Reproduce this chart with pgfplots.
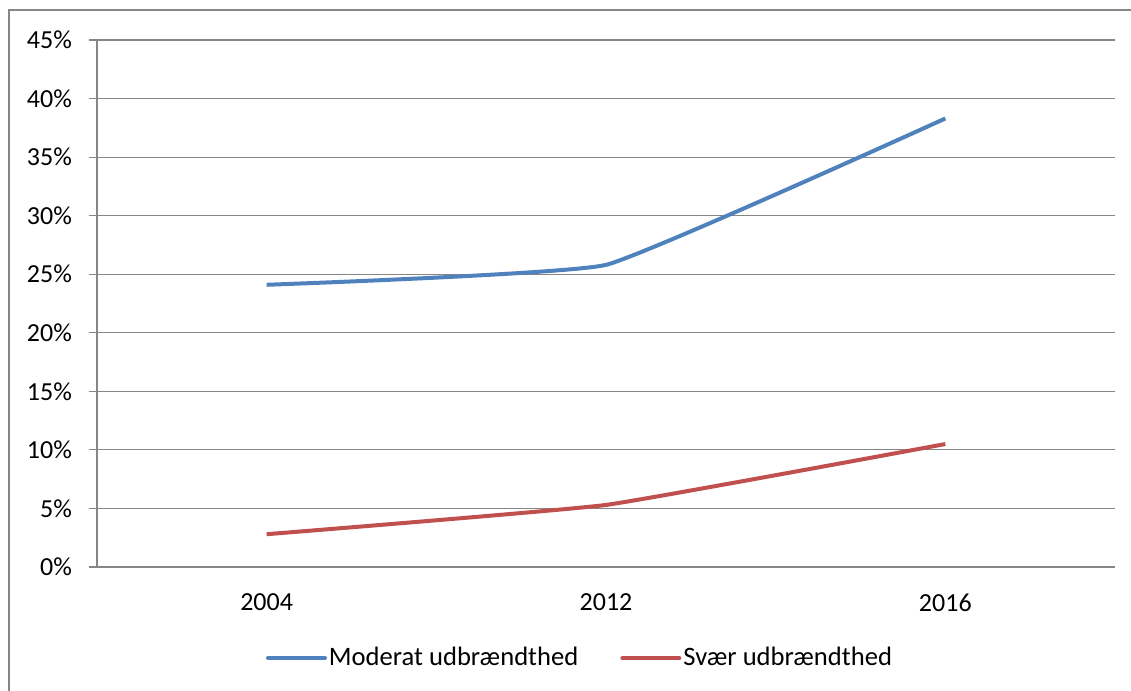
\documentclass[border=0pt]{standalone}
\usepackage{pgfplots}
\pgfplotsset{compat=1.18}
\usepackage{fontspec}
\setmainfont{Carlito}
\definecolor{gridc}{HTML}{868686}
\definecolor{sblue}{HTML}{4F81BD}
\definecolor{sred}{HTML}{C0504D}
\begin{document}
\begin{tikzpicture}
\clip (0,0) rectangle (565.5pt,-345.5pt);
\useasboundingbox (0,0) rectangle (565.5pt,-345.5pt);
\draw[gridc, line width=0.6pt] (4.5pt,-400pt) -- (4.5pt,-5pt) -- (600pt,-5pt);
\begin{axis}[
  at={(48.5pt,-283.5pt)}, anchor=south west,
  scale only axis, width=509pt, height=263.5pt,
  xmin=-0.5, xmax=2.5, ymin=0, ymax=45,
  xtick={0,1,2}, xticklabels={2004,2012,2016},
  extra x ticks={-0.5,0.5,1.5,2.5}, extra x tick labels={},
  extra x tick style={major tick length=4.5pt, tick style={gridc, line width=0.6pt}, grid=none},
  major x tick style={draw=none},
  ytick={0,5,...,45},
  yticklabels={0\%,5\%,10\%,15\%,20\%,25\%,30\%,35\%,40\%,45\%},
  ymajorgrids, grid style={gridc, line width=0.6pt},
  axis line style={gridc, line width=0.6pt},
  axis x line*=bottom, axis y line*=left,
  y tick style={gridc, line width=0.6pt}, major tick length=4pt,
  tick align=outside,
  /pgf/number format/assume math mode=true,
  tick label style={font=\fontsize{13}{15}\selectfont, text=black},
  yticklabel style={xshift=-5pt},
  xticklabel style={yshift=-6pt},
  legend style={at={(0.5,-0.173)}, anchor=center, xshift=-13pt, draw=none, fill=none,
    legend columns=2, font=\fontsize{13.3}{15}\selectfont,
    /tikz/every even column/.append style={column sep=20pt},
    nodes={inner sep=1pt}},
  legend cell align=left,
  legend image code/.code={\draw[#1, line width=2pt, line cap=round] (0pt,0pt) -- (28.5pt,0pt);},
]
\addplot[sblue, line width=2pt, smooth, tension=0.2] coordinates {(0,24.1) (1,25.8) (2,38.3)};
\addlegendentry{Moderat udbrændthed}
\addplot[sred, line width=2pt, smooth, tension=0.2] coordinates {(0,2.8) (1,5.3) (2,10.5)};
\addlegendentry{Svær udbrændthed}
\end{axis}
\end{tikzpicture}
\end{document}
